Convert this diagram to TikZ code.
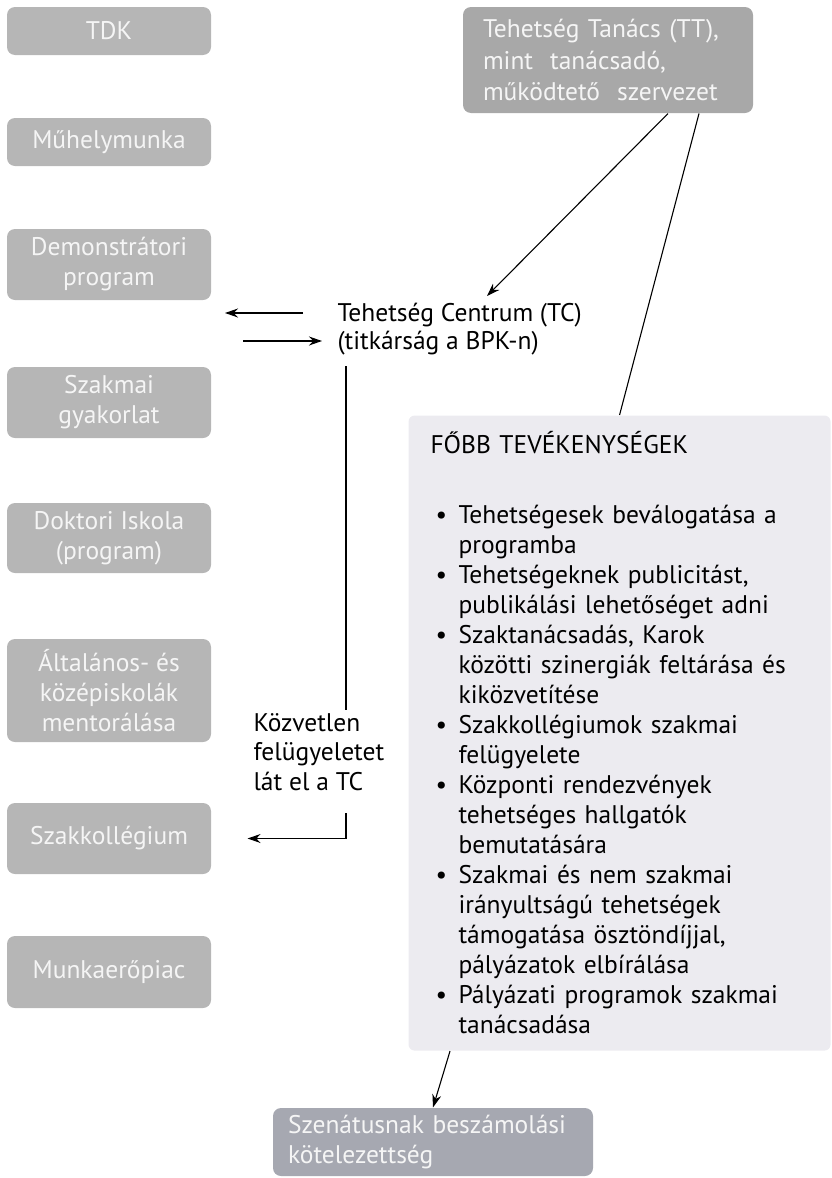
\documentclass[tikz,border=0pt]{standalone}
\usepackage{fontspec}
\setmainfont{PT Sans}
\usetikzlibrary{arrows.meta}

\definecolor{boxgray}{RGB}{182,182,182}
\definecolor{ttgray}{RGB}{168,168,168}
\definecolor{boxtext}{RGB}{245,245,245}
\definecolor{actfill}{RGB}{236,235,240}
\definecolor{sengray}{RGB}{166,168,177}

\newcommand\actitem[1]{\par\hangindent=28pt\hangafter=1\noindent\hbox to 28pt{\kern5pt\textbullet\hss}#1\par}

\tikzset{
  leftbox/.style={fill=boxgray,text=boxtext,rounded corners=8pt,align=center,minimum width=204pt,inner sep=0pt},
  ttbox/.style={fill=ttgray,text=boxtext,rounded corners=8pt,align=left,text width=250pt,minimum width=290pt,minimum height=106pt,inner xsep=20pt,font=\fontsize{25.5}{31.5}\selectfont},
  actbox/.style={fill=actfill,rounded corners=6pt,align=left,text width=378pt,inner xsep=22pt,minimum height=635pt},
  senbox/.style={fill=sengray,text=boxtext,rounded corners=8pt,align=left,text width=290pt,minimum width=320pt,minimum height=68pt,inner xsep=15pt},
  plain/.style={align=left,inner sep=0pt}
}

\begin{document}
\begin{tikzpicture}[x=1pt,y=-1pt,>={Stealth[length=13pt,width=9pt]},line width=1.1pt,font=\fontsize{25.5}{30}\selectfont]
\useasboundingbox (0,0) rectangle (831,1178);
% left column
\node[leftbox,minimum height=48pt] (tdk) at (109,31) {TDK};
\node[leftbox,minimum height=48pt] (muh) at (109,142) {Műhelymunka};
\node[leftbox,minimum height=71pt] (dem) at (109,264.5) {Demonstrátori\\program};
\node[leftbox,minimum height=71pt] (gyak) at (109,402.5) {Szakmai\\gyakorlat};
\node[leftbox,minimum height=70pt] (dok) at (109,538) {Doktori Iskola\\(program)};
\node[leftbox,minimum height=103pt] (alt) at (109,690.5) {Általános- és\\középiskolák\\mentorálása};
\node[leftbox,minimum height=71pt] (szk) at (109,838.5) {Szakkollégium};
\node[leftbox,minimum height=72pt] (mun) at (109,972) {Munkaerőpiac};
% council and centre
\node[ttbox] (tt) at (608,60) {Tehetség Tanács (TT),\\mint\ \ tanácsadó,\\működtető\ \ szervezet};
\node[plain,anchor=base west,font=\fontsize{25.5}{28}\selectfont] (tc) at (337,349) {Tehetség Centrum (TC)\\(titkárság a BPK-n)};
\node[plain,anchor=base west,font=\fontsize{25.5}{29.5}\selectfont] (kv) at (253,790) {Közvetlen\\felügyeletet\\lát el a TC};
% activities
\node[actbox,anchor=north west] (act) at (408,415) {\vspace*{8pt}\noindent FŐBB TEVÉKENYSÉGEK\par\vspace{32pt}
\actitem{Tehetségesek beválogatása a\newline programba}
\actitem{Tehetségeknek publicitást,\newline publikálási lehetőséget adni}
\actitem{Szaktanácsadás, Karok\newline közötti szinergiák feltárása és\newline kiközvetítése}
\actitem{Szakkollégiumok szakmai\newline felügyelete}
\actitem{Központi rendezvények\newline tehetséges hallgatók\newline bemutatására}
\actitem{Szakmai és nem szakmai\newline irányultságú tehetségek\newline támogatása ösztöndíjjal,\newline pályázatok elbírálása}
\actitem{Pályázati programok szakmai\newline tanácsadása}};
\node[senbox] (sen) at (433,1142) {Szenátusnak beszámolási\\kötelezettség};
% connectors
\coordinate (tcin) at (487,296);
\coordinate (outl) at (303,313); \coordinate (outtip) at (225,313);
\coordinate (inl) at (243,341); \coordinate (intip) at (322,341);
\coordinate (tcdown) at (346,366); \coordinate (kvtop) at (346,710); \coordinate (kvbot) at (346,813);
\draw[->] ([xshift=60pt]tt.south) -- (tcin);
\draw ([xshift=91pt]tt.south) -- (act.north);
\draw[->] (outl) -- (outtip);
\draw[->] (inl) -- (intip);
\draw (tcdown) -- (kvtop);
\draw[->,shorten >=36pt] (kvbot) |- (szk.east);
\draw[->] ([xshift=42pt]act.south west) -- (sen.north);
\end{tikzpicture}
\end{document}
